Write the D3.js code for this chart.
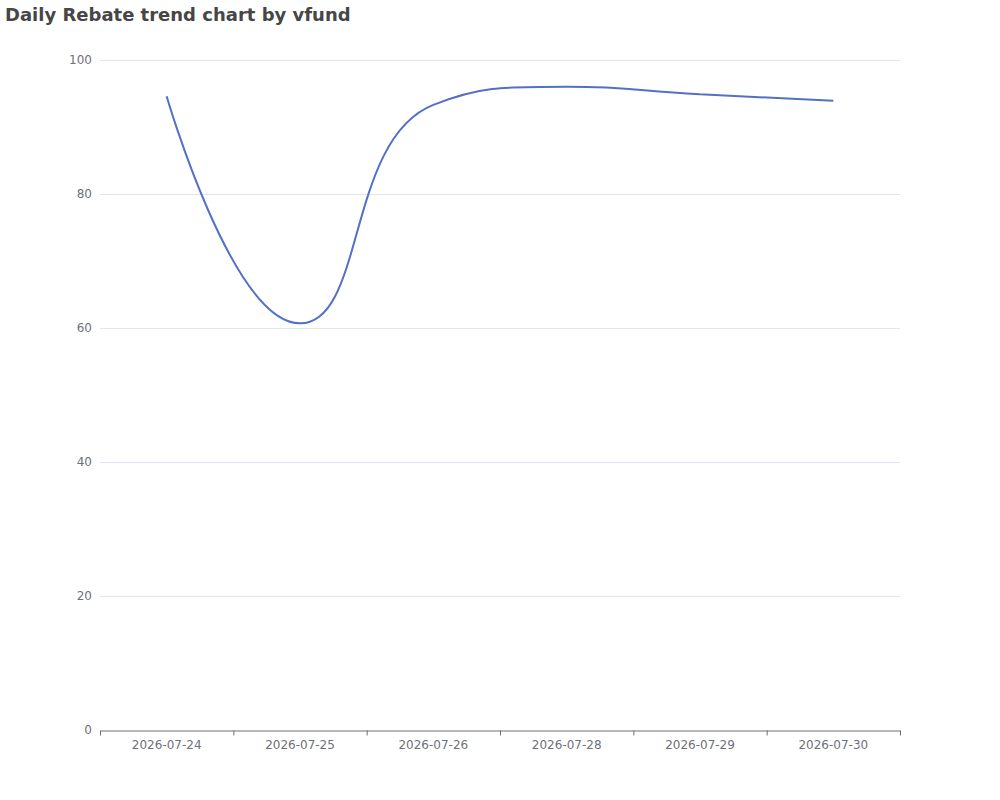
<!DOCTYPE html>
<html>
<head>
<meta charset="utf-8">
<script src="https://cdn.jsdelivr.net/npm/d3@7/dist/d3.min.js"></script>
<style>
  body { margin: 0; background: #fff; }
  svg { display: block; font-family: "DejaVu Sans", sans-serif; }
</style>
</head>
<body>
<svg width="1000" height="800"></svg>
<script>
// chart data
var dates   = ["2026-07-24", "2026-07-25", "2026-07-26", "2026-07-28", "2026-07-29", "2026-07-30"];
var rebates = [94.6, 60.7, 93.3, 96.0, 94.9, 93.9];
var yTicks  = [0, 20, 40, 60, 80, 100];

var margin = {top: 60, right: 100, bottom: 70, left: 100};
var width  = 1000, height = 800;

var svg = d3.select("svg");

// echarts-like smoothing (smooth = 0.5) with its extreme constraint, as a d3 curve
function echartsSmooth(context) {
  var pts;
  var smooth = 0.5;
  function clamp(v, a, b) { return Math.max(Math.min(v, Math.max(a, b)), Math.min(a, b)); }
  return {
    areaStart: function() {}, areaEnd: function() {},
    lineStart: function() { pts = []; },
    point: function(x, y) { pts.push([x, y]); },
    lineEnd: function() {
      var n = pts.length;
      if (!n) return;
      context.moveTo(pts[0][0], pts[0][1]);
      var cp0 = pts[0];
      for (var i = 1; i < n; i++) {
        var p = pts[i], prev = pts[i - 1], next = pts[i + 1];
        var cp1, nextCp0;
        if (!next) {
          cp1 = p; nextCp0 = p;
        } else {
          var vx = next[0] - prev[0], vy = next[1] - prev[1];
          var l0 = Math.hypot(p[0] - prev[0], p[1] - prev[1]);
          var l1 = Math.hypot(next[0] - p[0], next[1] - p[1]);
          var r = l1 / (l0 + l1);
          var nx = p[0] + vx * smooth * r, ny = p[1] + vy * smooth * r;
          nx = clamp(nx, next[0], p[0]); ny = clamp(ny, next[1], p[1]);
          vx = nx - p[0]; vy = ny - p[1];
          var cx = p[0] - vx * l0 / l1, cy = p[1] - vy * l0 / l1;
          cx = clamp(cx, prev[0], p[0]); cy = clamp(cy, prev[1], p[1]);
          vx = p[0] - cx; vy = p[1] - cy;
          cp1 = [cx, cy];
          nextCp0 = [p[0] + vx * l1 / l0, p[1] + vy * l1 / l0];
        }
        context.bezierCurveTo(cp0[0], cp0[1], cp1[0], cp1[1], p[0], p[1]);
        cp0 = nextCp0;
      }
    }
  };
}

var x = d3.scaleBand()
  .domain(dates)
  .range([margin.left, width - margin.right])
  .padding(0);

var y = d3.scaleLinear()
  .domain([0, 100])
  .range([height - margin.bottom, margin.top]);

// title
svg.append("text")
  .attr("x", 5).attr("y", 21)
  .attr("fill", "#464646")
  .style("font-size", "18px").style("font-weight", "bold")
  .text("Daily Rebate trend chart by vfund");

// grid lines
svg.append("g").selectAll("line")
  .data(yTicks.filter(function(d) { return d > 0; }))
  .enter().append("line")
  .attr("x1", margin.left).attr("x2", width - margin.right)
  .attr("y1", function(d) { return y(d) + 0.5; })
  .attr("y2", function(d) { return y(d) + 0.5; })
  .attr("stroke", "#E0E6F1").attr("stroke-width", 1);

// y axis labels
svg.append("g").selectAll("text")
  .data(yTicks)
  .enter().append("text")
  .attr("x", margin.left - 8)
  .attr("y", function(d) { return y(d); })
  .attr("dy", "0.35em")
  .attr("text-anchor", "end")
  .attr("fill", "#6E7079")
  .style("font-size", "12px")
  .text(function(d) { return d; });

// x axis
var xAxis = d3.axisBottom(x).tickSize(0).tickPadding(10);
var gx = svg.append("g")
  .attr("transform", "translate(0," + (y(0) + 0.5) + ")")
  .call(xAxis);
gx.select(".domain").attr("stroke", "#6E7079");
gx.selectAll(".tick text")
  .attr("fill", "#6E7079")
  .style("font-size", "12px")
  .style("font-family", "DejaVu Sans, sans-serif");

// boundary ticks between categories
var bounds = dates.map(function(d) { return x(d); }).concat([x.range()[1]]);
gx.selectAll(".bound")
  .data(bounds)
  .enter().append("line")
  .attr("class", "bound")
  .attr("x1", function(d) { return d + 0.5; })
  .attr("x2", function(d) { return d + 0.5; })
  .attr("y1", 0).attr("y2", 5)
  .attr("stroke", "#6E7079");

// the line
var line = d3.line()
  .x(function(d, i) { return x(dates[i]) + x.bandwidth() / 2; })
  .y(function(d) { return y(d); })
  .curve(echartsSmooth);

svg.append("path")
  .datum(rebates)
  .attr("d", line)
  .attr("fill", "none")
  .attr("stroke", "#5470C6")
  .attr("stroke-width", 2)
  .attr("stroke-linejoin", "bevel");
</script>
</body>
</html>
